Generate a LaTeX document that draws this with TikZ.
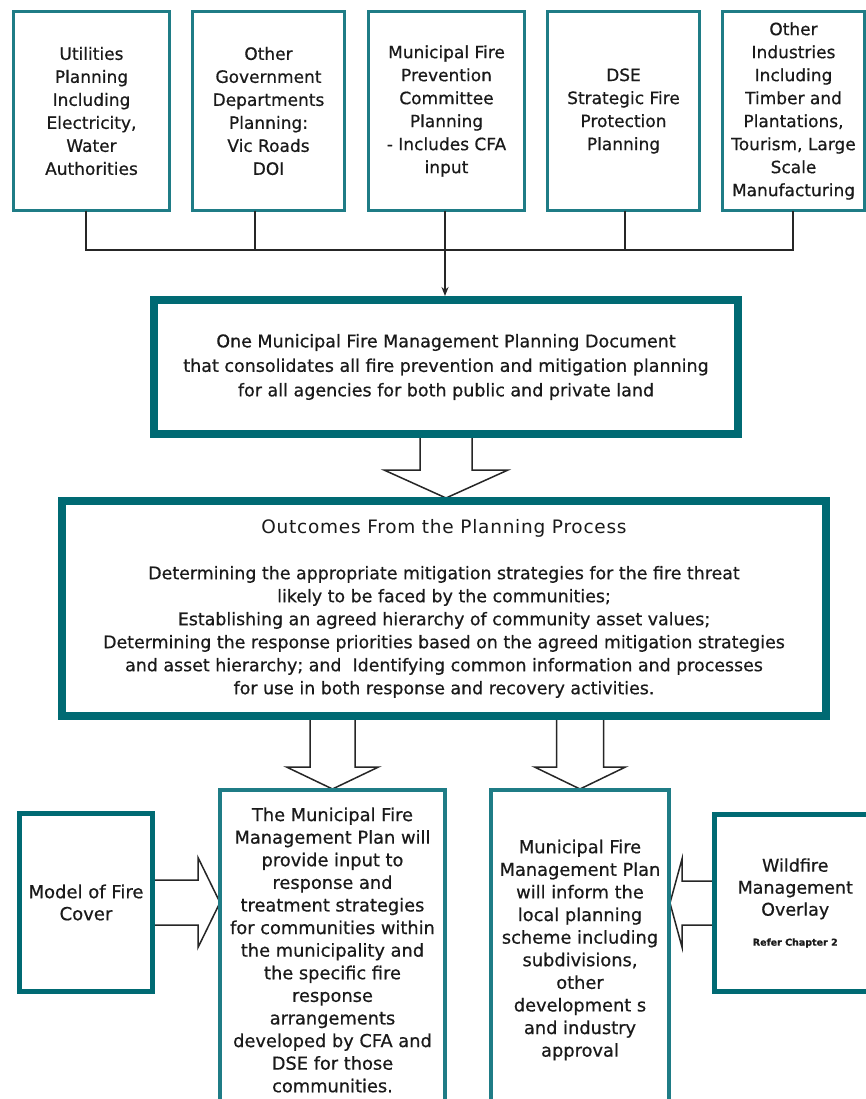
\documentclass[tikz,border=0pt]{standalone}
\usepackage{fontspec}
\setmainfont[FakeBold=0.6]{DejaVu Sans}
\newfontfamily\titlefont[LetterSpace=4]{DejaVu Sans}
\usetikzlibrary{arrows.meta,calc}
\definecolor{tealA}{HTML}{1F7C86}
\definecolor{tealB}{HTML}{006A73}
\definecolor{txt}{HTML}{1A1A1A}
\begin{document}
\begin{tikzpicture}[x=1bp,y=-1bp,
  every node/.style={inner sep=0pt, outer sep=0pt, text=txt, align=center},
  topbox/.style={draw=tealA, line width=3bp, fill=white, font=\fontsize{17bp}{23bp}\selectfont},
  mainbox/.style={draw=tealB, line width=8bp, fill=white},
  planbox/.style={draw=tealA, line width=4bp, font=\fontsize{17.8bp}{22.6bp}\selectfont},
  sidebox/.style={draw=tealB, line width=5bp, fill=white, font=\fontsize{17.5bp}{22bp}\selectfont},
  conn/.style={draw=black!85, line width=2bp},
  hollow/.style={draw=black!85, line width=1.5bp, fill=white, line join=miter}
]
\useasboundingbox (0,0) rectangle (866,1099);
\clip (0,0) rectangle (866,1099);
\fill[white] (0,0) rectangle (866,1099);

% top boxes
\node[topbox, minimum width=156bp, minimum height=199bp] (b1) at (91.5,111)
  {Utilities\\Planning\\Including\\Electricity,\\Water\\Authorities};
\node[topbox, minimum width=152bp, minimum height=199bp] (b2) at (268.5,111)
  {Other\\Government\\Departments\\Planning:\\Vic Roads\\DOI};
\node[topbox, minimum width=156bp, minimum height=199bp] (b3) at (446.5,111)
  {Municipal Fire\\Prevention\\Committee\\Planning\\- Includes CFA\\input};
\node[topbox, minimum width=152bp, minimum height=199bp] (b4) at (623.5,111)
  {DSE\\Strategic Fire\\Protection\\Planning};
\node[topbox, minimum width=142bp, minimum height=199bp] (b5) at (793.5,111)
  {Other\\Industries\\Including\\Timber and\\Plantations,\\Tourism, Large\\Scale\\Manufacturing};

% junction points
\coordinate (j1) at (86,250);
\coordinate (j2) at (255,250);
\coordinate (j3) at (445,250);
\coordinate (j4) at (625,250);
\coordinate (j5) at (793,250);

\node[mainbox, minimum width=584bp, minimum height=134bp, font=\fontsize{17.5bp}{24.5bp}\selectfont] (m1) at (446,367)
  {One Municipal Fire Management Planning Document\\that consolidates all fire prevention and mitigation planning\\for all agencies for both public and private land};

\node[mainbox, minimum width=764bp, minimum height=215bp, font=\fontsize{17.4bp}{23bp}\selectfont] (m2) at (444,608.5)
  {{\titlefont\fontsize{18.5bp}{23bp}\selectfont Outcomes From the Planning Process}\\[23bp]
   Determining the appropriate mitigation strategies for the fire threat\\
   likely to be faced by the communities;\\
   Establishing an agreed hierarchy of community asset values;\\
   Determining the response priorities based on the agreed mitigation strategies\\
   and asset hierarchy; and \ Identifying common information and processes\\
   for use in both response and recovery activities.};

\node[planbox, minimum width=225bp, minimum height=320bp] (p1) at (332.5,950)
  {The Municipal Fire\\Management Plan will\\provide input to\\response and\\treatment strategies\\for communities within\\the municipality and\\the specific fire\\response\\arrangements\\developed by CFA and\\DSE for those\\communities.};
\node[planbox, minimum width=178bp, minimum height=320bp] (p2) at (580,950)
  {Municipal Fire\\Management Plan\\will inform the\\local planning\\scheme including\\subdivisions,\\other\\development s\\and industry\\approval};

\node[sidebox, minimum width=133bp, minimum height=178bp, font=\fontsize{18bp}{22bp}\selectfont] (mf) at (86,902.5)
  {Model of Fire\\Cover};
\node[sidebox, minimum width=161.5bp, minimum height=177bp] (wf) at (795.25,903)
  {Wildfire\\Management\\Overlay\\[8bp]{\fontsize{9.5bp}{10bp}\selectfont\bfseries Refer Chapter 2}};

% connectors from top boxes
\draw[conn] (j1 |- b1.south) -- (j1) -- (j5) -- (j5 |- b5.south);
\draw[conn] (j2 |- b2.south) -- (j2);
\draw[conn] (j4 |- b4.south) -- (j4);
\draw[conn] (j3 |- b3.south) -- (j3);
\draw[conn, -{Stealth[length=9bp,width=7bp]}, shorten >=4bp] (j3) -- (j3 |- m1.north);

% hollow arrow m1 -> m2
\draw[hollow] ($(m1.south)+(-26,0)$) -- ($(m1.south |- m2.north)+(-26,-31)$)
  -- ($(m1.south |- m2.north)+(-62,-31)$) -- ($(m1.south |- m2.north)+(0,-3)$)
  -- ($(m1.south |- m2.north)+(62,-31)$) -- ($(m1.south |- m2.north)+(26,-31)$)
  -- ($(m1.south)+(26,0)$);
% hollow arrow m2 -> p1
\draw[hollow] ($(p1.north |- m2.south)+(-22.5,0)$) -- ($(p1.north)+(-22.5,-23)$)
  -- ($(p1.north)+(-46,-23)$) -- ($(p1.north)+(0,-1)$)
  -- ($(p1.north)+(46,-23)$) -- ($(p1.north)+(22.5,-23)$)
  -- ($(p1.north |- m2.south)+(22.5,0)$);
% hollow arrow m2 -> p2
\draw[hollow] ($(p2.north |- m2.south)+(-23.5,0)$) -- ($(p2.north)+(-23.5,-23)$)
  -- ($(p2.north)+(-45.5,-23)$) -- ($(p2.north)+(0,-1)$)
  -- ($(p2.north)+(45.5,-23)$) -- ($(p2.north)+(23.5,-23)$)
  -- ($(p2.north |- m2.south)+(23.5,0)$);
% hollow arrow mf -> p1
\draw[hollow] ($(mf.east)+(0,-22.5)$) -- ($(p1.west |- mf.east)+(-22,-22.5)$)
  -- ($(p1.west |- mf.east)+(-22,-45)$) -- ($(p1.west |- mf.east)+(0,0)$)
  -- ($(p1.west |- mf.east)+(-22,45)$) -- ($(p1.west |- mf.east)+(-22,22.5)$)
  -- ($(mf.east)+(0,22.5)$);
% hollow arrow wf -> p2
\draw[hollow] ($(wf.west)+(0,-22)$) -- ($(p2.east |- wf.west)+(13,-22)$)
  -- ($(p2.east |- wf.west)+(13,-44)$) -- ($(p2.east |- wf.west)+(1,0)$)
  -- ($(p2.east |- wf.west)+(13,44)$) -- ($(p2.east |- wf.west)+(13,22)$)
  -- ($(wf.west)+(0,22)$);

% redraw box borders on top of arrow ends
\draw[draw=tealB, line width=8bp] (m1.south west) rectangle (m1.north east);
\draw[draw=tealB, line width=8bp] (m2.south west) rectangle (m2.north east);
\draw[draw=tealA, line width=4bp] (p1.south west) rectangle (p1.north east);
\draw[draw=tealA, line width=4bp] (p2.south west) rectangle (p2.north east);
\draw[draw=tealB, line width=5bp] (mf.south west) rectangle (mf.north east);
\draw[draw=tealB, line width=5bp] (wf.south west) rectangle (wf.north east);
\end{tikzpicture}
\end{document}
